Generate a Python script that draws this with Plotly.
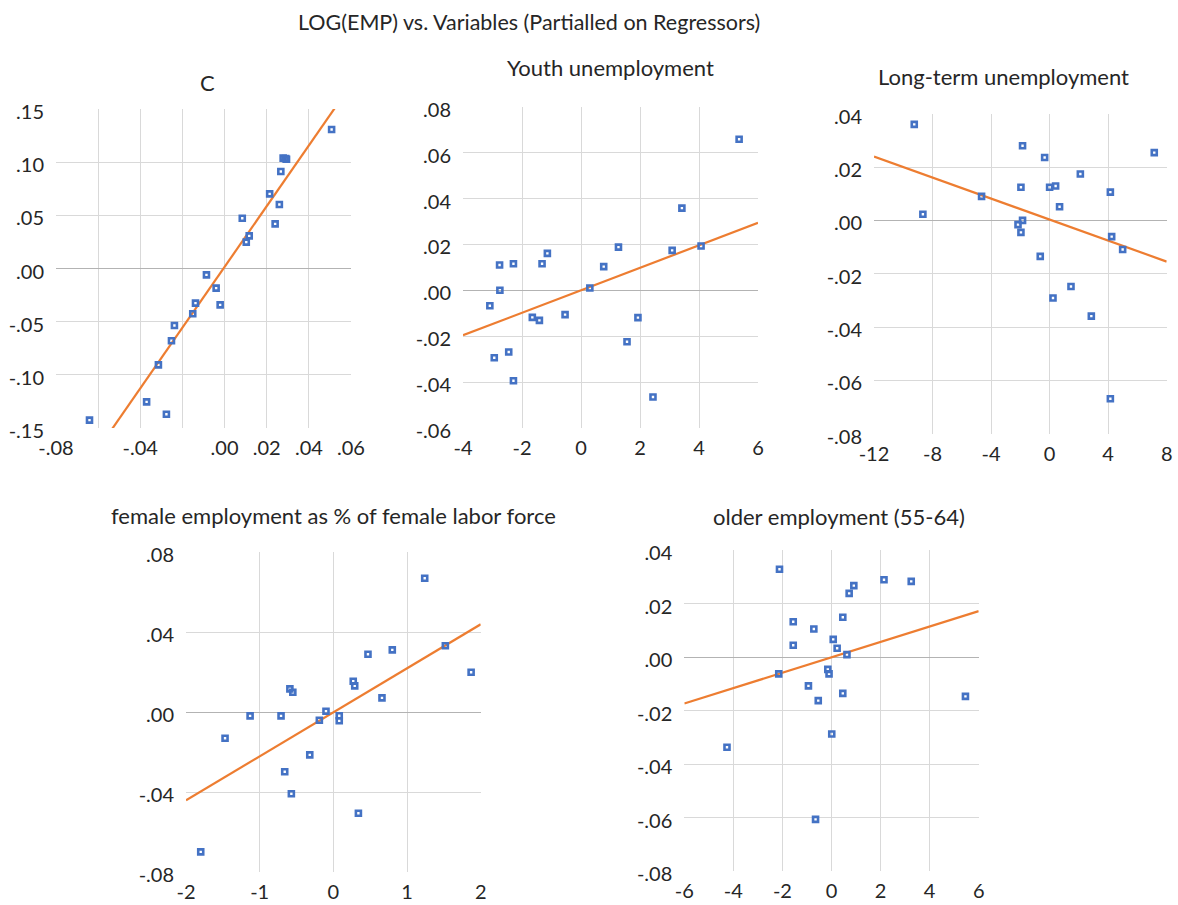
import plotly.graph_objects as go
import numpy as np

# ---------------- data ----------------
c_x = [0.0508, 0.0278, 0.0294, 0.0290, 0.0267, 0.0214, 0.0260, 0.0240, 0.0084, 0.0117, 0.0103,
       -0.0086, -0.0040, -0.0021, -0.0138, -0.0151, -0.0238, -0.0252, -0.0314, -0.0370, -0.0276, -0.0641]
c_y = [0.1307, 0.1038, 0.1028, 0.1033, 0.0912, 0.0702, 0.0602, 0.0420, 0.0473, 0.0307, 0.0248,
       -0.0060, -0.0185, -0.0342, -0.0326, -0.0426, -0.0536, -0.0680, -0.0906, -0.1254, -0.1370, -0.1426]

youth_x = [5.36, 3.42, 3.09, 4.07, 1.27, 0.77, 0.30, -1.14, -1.32, -2.29, -2.76,
           -2.75, -3.09, -1.65, -1.41, -0.54, 1.93, 1.56, -2.94, -2.45, -2.29, 2.44]
youth_y = [0.0658, 0.0358, 0.0174, 0.0193, 0.0188, 0.0103, 0.0010, 0.0161, 0.0116, 0.0116, 0.0110,
           0.0000, -0.0067, -0.0118, -0.0131, -0.0106, -0.0119, -0.0224, -0.0294, -0.0269, -0.0394, -0.0465]

lt_x = [-9.25, -8.66, -4.65, -1.85, -1.96, -1.85, -2.16, -1.96, -0.34, 0.00, 0.41,
        0.68, -0.64, 2.10, 4.15, 7.15, 4.24, 4.99, 1.46, 0.23, 2.85, 4.15]
lt_y = [0.0360, 0.0023, 0.0090, 0.0280, 0.0124, 0.0000, -0.0016, -0.0045, 0.0236, 0.0124, 0.0129,
        0.0051, -0.0135, 0.0174, 0.0106, 0.0254, -0.0061, -0.0109, -0.0248, -0.0291, -0.0359, -0.0669]

fem_x = [1.24, 1.52, 1.87, 0.80, 0.47, 0.27, 0.29, 0.66, -0.59, -0.55, -0.10,
         0.08, 0.08, -0.19, -1.13, -0.71, -1.47, -0.32, -0.66, -0.57, 0.34, -1.80]
fem_y = [0.0670, 0.0333, 0.0200, 0.0312, 0.0290, 0.0155, 0.0132, 0.0072, 0.0117, 0.0100, 0.0005,
         -0.0017, -0.0042, -0.0040, -0.0018, -0.0018, -0.0130, -0.0213, -0.0297, -0.0407, -0.0505, -0.0698]

old_x = [-2.12, 2.14, 3.25, 0.91, 0.72, 0.46, -1.56, -0.72, 0.07, 0.23, -1.56,
         0.63, -2.15, -0.15, -0.10, -0.94, 0.46, -0.54, 5.46, 0.01, -4.26, -0.65]
old_y = [0.0329, 0.0290, 0.0284, 0.0268, 0.0239, 0.0150, 0.0133, 0.0106, 0.0067, 0.0034, 0.0045,
         0.0010, -0.0062, -0.0045, -0.0062, -0.0107, -0.0135, -0.0162, -0.0146, -0.0287, -0.0336, -0.0606]

# fitted partial-regression lines (slope, intercept)
fit_slopes = [2.855, 0.0049, -0.00197, 0.022, 0.00288]
fit_intercepts = [0.0015, 0.0, 0.0003, 0.0, 0.0]

titles = ["C", "Youth unemployment", "Long-term unemployment",
          "female employment as % of female labor force", "older employment (55-64)"]
main_title = "LOG(EMP) vs. Variables (Partialled on Regressors)"

# tick values / labels
c_xticks = [-0.08, -0.06, -0.04, -0.02, 0.0, 0.02, 0.04, 0.06]
c_xtext = ["-.08", "", "-.04", "", ".00", ".02", ".04", ".06"]
c_yticks = [-0.15, -0.10, -0.05, 0.0, 0.05, 0.10, 0.15]
c_ytext = ["-.15", "-.10", "-.05", ".00", ".05", ".10", ".15"]

youth_xticks = [-4, -2, 0, 2, 4, 6]
youth_yticks = [-0.06, -0.04, -0.02, 0.0, 0.02, 0.04, 0.06, 0.08]
youth_ytext = ["-.06", "-.04", "-.02", ".00", ".02", ".04", ".06", ".08"]

lt_xticks = [-12, -8, -4, 0, 4, 8]
lt_yticks = [-0.08, -0.06, -0.04, -0.02, 0.0, 0.02, 0.04]
lt_ytext = ["-.08", "-.06", "-.04", "-.02", ".00", ".02", ".04"]

fem_xticks = [-2, -1, 0, 1, 2]
fem_yticks = [-0.08, -0.04, 0.0, 0.04, 0.08]
fem_ytext = ["-.08", "-.04", ".00", ".04", ".08"]

old_xticks = [-6, -4, -2, 0, 2, 4, 6]
old_yticks = [-0.08, -0.06, -0.04, -0.02, 0.0, 0.02, 0.04]
old_ytext = ["-.08", "-.06", "-.04", "-.02", ".00", ".02", ".04"]

# ---------------- layout / styling ----------------
W, H = 1178, 905
FONT = "Lato, 'Open Sans', sans-serif"
TXT = "#262626"
BLUE = "#4472C4"
ORANGE = "#ED7D31"
GRID = "#D9D9D9"
ZERO = "#B3B3B3"


def fx(p):
    return p / W


def fy(p):
    return 1 - p / H


# plot-area pixel boxes in window pixels: (left, right, top, bottom)
boxes = [(56, 351, 109, 428), (463, 758, 106.7, 428), (874, 1166.7, 113.7, 433.7),
         (186, 480.7, 552.3, 872.3), (684.3, 978.7, 550.3, 871.3)]
title_pos = [(207, 82), (610, 68), (1003, 76), (333, 515), (839, 516)]

panels = [
    (c_x, c_y, [-0.08, 0.06], c_xticks, c_xtext, [-0.15, 0.15], c_yticks, c_ytext),
    (youth_x, youth_y, [-4, 6], youth_xticks, [str(v) for v in youth_xticks], [-0.06, 0.08], youth_yticks, youth_ytext),
    (lt_x, lt_y, [-12, 8], lt_xticks, [str(v) for v in lt_xticks], [-0.08, 0.04], lt_yticks, lt_ytext),
    (fem_x, fem_y, [-2, 2], fem_xticks, [str(v) for v in fem_xticks], [-0.08, 0.08], fem_yticks, fem_ytext),
    (old_x, old_y, [-6, 6], old_xticks, [str(v) for v in old_xticks], [-0.08, 0.04], old_yticks, old_ytext),
]

fig = go.Figure()
layout = dict(width=W, height=H, autosize=False, margin=dict(l=0, r=0, t=0, b=0, pad=0),
              paper_bgcolor="white", plot_bgcolor="white", showlegend=False,
              font=dict(family=FONT, color=TXT, size=20))
annotations = []

for i, (px, py, xr, xt, xtt, yr, yt, ytt) in enumerate(panels):
    n = "" if i == 0 else str(i + 1)
    xa, ya = "x" + n, "y" + n
    l, r, t, b = boxes[i]
    layout["xaxis" + n] = dict(domain=[fx(l), fx(r)], range=xr, anchor=ya, automargin=False,
                               tickmode="array", tickvals=xt, ticktext=xtt,
                               showgrid=True, gridcolor=GRID, gridwidth=1,
                               zeroline=False, showline=False, ticks="", ticklabelstandoff=6,
                               tickfont=dict(size=20, color=TXT, family=FONT))
    layout["yaxis" + n] = dict(domain=[fy(b), fy(t)], range=yr, anchor=xa, automargin=False,
                               tickmode="array", tickvals=yt, ticktext=ytt,
                               showgrid=True, gridcolor=GRID, gridwidth=1,
                               zeroline=True, zerolinecolor=ZERO, zerolinewidth=1,
                               showline=False, ticks="", ticklabelstandoff=11, ticklabelshift=3,
                               tickfont=dict(size=20, color=TXT, family=FONT))
    lx = np.array(xr, dtype=float)
    ly = fit_intercepts[i] + fit_slopes[i] * lx
    fig.add_trace(go.Scatter(x=lx, y=ly, mode="lines", xaxis=xa, yaxis=ya,
                             line=dict(color=ORANGE, width=2.2), hoverinfo="skip"))
    fig.add_trace(go.Scatter(x=px, y=py, mode="markers", xaxis=xa, yaxis=ya,
                             marker=dict(symbol="square-open", size=5, color=BLUE,
                                         line=dict(color=BLUE, width=2.6)),
                             cliponaxis=False))
    cx, cy = title_pos[i]
    annotations.append(dict(text=titles[i], x=fx(cx), y=fy(cy), xref="paper", yref="paper",
                            xanchor="center", yanchor="middle", showarrow=False,
                            font=dict(size=22, color=TXT, family=FONT)))

annotations.append(dict(text=main_title, x=fx(529), y=fy(22), xref="paper", yref="paper",
                        xanchor="center", yanchor="middle", showarrow=False,
                        font=dict(size=21.5, color=TXT, family=FONT)))
layout["annotations"] = annotations
fig.update_layout(**layout)

# remove the default page margin so the figure fills the 1178x905 window exactly
fig.write_html("out.html",
               config={"displayModeBar": False},
               post_script="document.body.style.margin='0';document.body.style.overflow='hidden';")
